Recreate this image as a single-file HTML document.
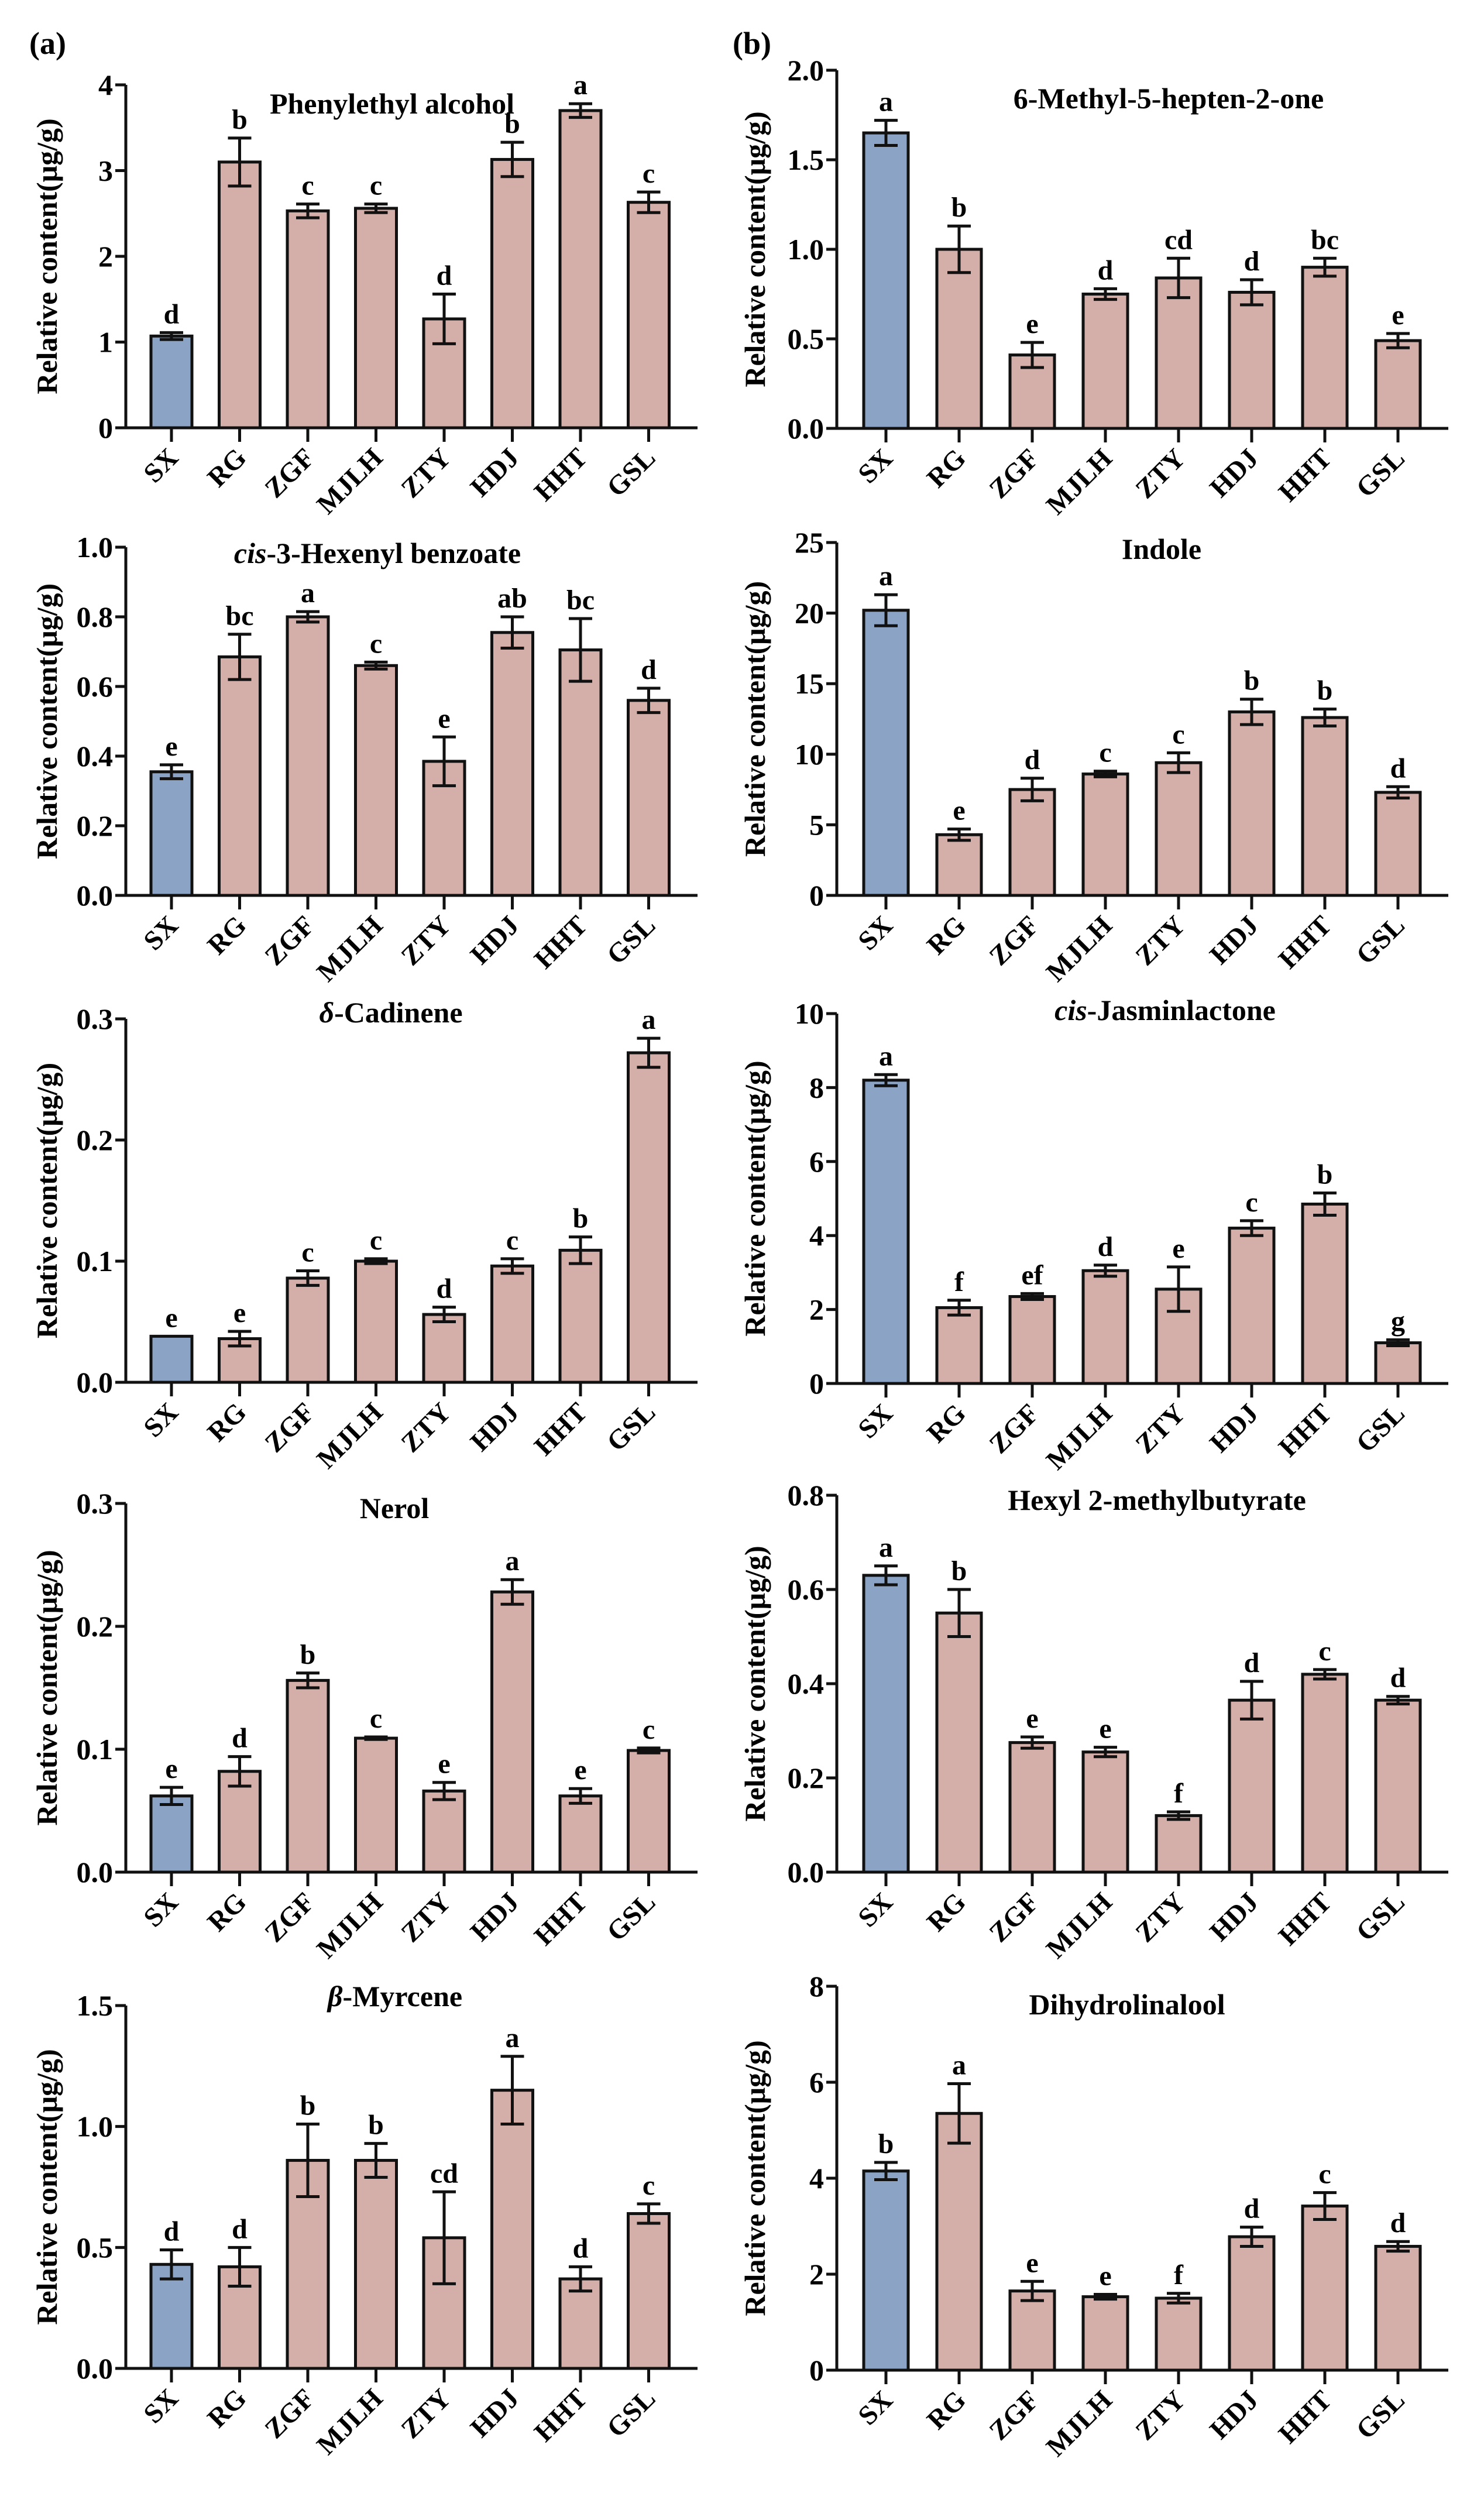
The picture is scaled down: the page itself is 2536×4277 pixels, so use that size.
<!DOCTYPE html>
<html><head><meta charset="utf-8"><style>
html,body{margin:0;padding:0;background:#fff;}
svg{display:block;font-family:"Liberation Serif",serif;font-weight:bold;}
</style></head><body>
<svg id="fig" width="2536" height="4277" viewBox="0 0 2536 4277" xmlns="http://www.w3.org/2000/svg">
<text x="50" y="92" font-size="54">(a)</text>
<text x="1252" y="92" font-size="54">(b)</text>
</svg>
<script>
const categories = ["SX","RG","ZGF","MJLH","ZTY","HDJ","HHT","GSL"];
const valsA1 = [1.07,3.1,2.53,2.56,1.27,3.13,3.7,2.63];
const errA1 = [0.04,0.28,0.08,0.05,0.29,0.2,0.08,0.12];
const letA1 = ["d","b","c","c","d","b","a","c"];
const ticksA1 = ["0","1","2","3","4"];
const valsA2 = [0.355,0.685,0.8,0.66,0.385,0.755,0.705,0.56];
const errA2 = [0.02,0.065,0.015,0.01,0.07,0.045,0.09,0.035];
const letA2 = ["e","bc","a","c","e","ab","bc","d"];
const ticksA2 = ["0.0","0.2","0.4","0.6","0.8","1.0"];
const valsA3 = [0.038,0.036,0.086,0.1,0.056,0.096,0.109,0.272];
const errA3 = [0,0.006,0.006,0.002,0.006,0.006,0.011,0.012];
const letA3 = ["e","e","c","c","d","c","b","a"];
const ticksA3 = ["0.0","0.1","0.2","0.3"];
const valsA4 = [0.062,0.082,0.156,0.109,0.066,0.228,0.062,0.099];
const errA4 = [0.007,0.012,0.006,0.001,0.007,0.01,0.006,0.002];
const letA4 = ["e","d","b","c","e","a","e","c"];
const ticksA4 = ["0.0","0.1","0.2","0.3"];
const valsA5 = [0.43,0.42,0.86,0.86,0.54,1.15,0.37,0.64];
const errA5 = [0.06,0.08,0.15,0.07,0.19,0.14,0.05,0.04];
const letA5 = ["d","d","b","b","cd","a","d","c"];
const ticksA5 = ["0.0","0.5","1.0","1.5"];
const valsB1 = [1.65,1.0,0.41,0.75,0.84,0.76,0.9,0.49];
const errB1 = [0.07,0.13,0.07,0.03,0.11,0.07,0.05,0.04];
const letB1 = ["a","b","e","d","cd","d","bc","e"];
const ticksB1 = ["0.0","0.5","1.0","1.5","2.0"];
const valsB2 = [20.2,4.3,7.5,8.6,9.4,13.0,12.6,7.3];
const errB2 = [1.1,0.4,0.8,0.2,0.7,0.9,0.6,0.4];
const letB2 = ["a","e","d","c","c","b","b","d"];
const ticksB2 = ["0","5","10","15","20","25"];
const valsB3 = [8.2,2.05,2.35,3.05,2.55,4.2,4.85,1.1];
const errB3 = [0.15,0.2,0.08,0.15,0.6,0.2,0.3,0.08];
const letB3 = ["a","f","ef","d","e","c","b","g"];
const ticksB3 = ["0","2","4","6","8","10"];
const valsB4 = [0.63,0.55,0.275,0.255,0.12,0.365,0.42,0.365];
const errB4 = [0.02,0.05,0.012,0.01,0.008,0.04,0.01,0.008];
const letB4 = ["a","b","e","e","f","d","c","d"];
const ticksB4 = ["0.0","0.2","0.4","0.6","0.8"];
const valsB5 = [4.15,5.35,1.65,1.53,1.5,2.78,3.42,2.58];
const errB5 = [0.18,0.62,0.2,0.05,0.1,0.2,0.28,0.1];
const letB5 = ["b","a","e","e","f","d","c","d"];
const ticksB5 = ["0","2","4","6","8"];

const NS="http://www.w3.org/2000/svg";
const svg=document.getElementById('fig');
function mk(tag,attrs,parent){const e=document.createElementNS(NS,tag);for(const k in attrs)e.setAttribute(k,attrs[k]);(parent||svg).appendChild(e);return e;}

const panels=[
 {id:"a1",col:0,top:145,zero:731,vals:valsA1,err:errA1,let:letA1,ticks:ticksA1,title:[["","Phenylethyl alcohol"]],tx:670,ty:194},
 {id:"a2",col:0,top:935,zero:1530,vals:valsA2,err:errA2,let:letA2,ticks:ticksA2,title:[["i","cis"],["","-3-Hexenyl benzoate"]],tx:645,ty:962},
 {id:"a3",col:0,top:1741,zero:2362,vals:valsA3,err:errA3,let:letA3,ticks:ticksA3,title:[["i","δ"],["","-Cadinene"]],tx:668,ty:1747},
 {id:"a4",col:0,top:2569,zero:3199,vals:valsA4,err:errA4,let:letA4,ticks:ticksA4,title:[["","Nerol"]],tx:674,ty:2594},
 {id:"a5",col:0,top:3427,zero:4047,vals:valsA5,err:errA5,let:letA5,ticks:ticksA5,title:[["i","β"],["","-Myrcene"]],tx:675,ty:3428},
 {id:"b1",col:1,top:120,zero:732,vals:valsB1,err:errB1,let:letB1,ticks:ticksB1,title:[["","6-Methyl-5-hepten-2-one"]],tx:1997,ty:185},
 {id:"b2",col:1,top:927,zero:1530,vals:valsB2,err:errB2,let:letB2,ticks:ticksB2,title:[["","Indole"]],tx:1985,ty:955},
 {id:"b3",col:1,top:1732,zero:2364,vals:valsB3,err:errB3,let:letB3,ticks:ticksB3,title:[["i","cis"],["","-Jasminlactone"]],tx:1991,ty:1743},
 {id:"b4",col:1,top:2555,zero:3199,vals:valsB4,err:errB4,let:letB4,ticks:ticksB4,title:[["","Hexyl 2-methylbutyrate"]],tx:1977,ty:2580},
 {id:"b5",col:1,top:3394,zero:4050,vals:valsB5,err:errB5,let:letB5,ticks:ticksB5,title:[["","Dihydrolinalool"]],tx:1926,ty:3442}
];
const cols=[{ax:215,end:1192,c0:293,step:116.5,bw:70,labx:80},{ax:1430,end:2475,c0:1514,step:125,bw:76,labx:1290}];

panels.forEach(p=>{
 const c=cols[p.col];
 const g=mk('g',{});
 
 
 const ymax=parseFloat(p.ticks[p.ticks.length-1]);
 const y=v=>p.zero-(v/ymax)*(p.zero-p.top);
 const x=i=>c.c0+i*c.step;
 p.vals.forEach((v,i)=>{
  const r=mk('rect',{x:x(i)-c.bw/2,y:y(v),width:c.bw,height:p.zero-y(v),fill:i===0?'#8ba3c4':'#d4aea8',stroke:'#111','stroke-width':5},g);
  
  
  const e=p.err[i];
  if(e>0){
   const eb=mk('path',{d:`M${x(i)},${y(v+e)}V${y(v-e)}M${x(i)-20},${y(v+e)}H${x(i)+20}M${x(i)-20},${y(v-e)}H${x(i)+20}`,stroke:'#111','stroke-width':5,fill:'none'},g);
   
   
  }
  const t=mk('text',{x:x(i),y:y(v+e)-16,'font-size':48,'text-anchor':'middle'},g);
  t.textContent=p.let[i];
  
  
  const xt=mk('line',{x1:x(i),x2:x(i),y1:p.zero,y2:p.zero+24,stroke:'#111','stroke-width':5},g);
  
  
  const lx=x(i)+14, ly=p.zero+54;
  const xl=mk('text',{x:lx,y:ly,'font-size':47,'text-anchor':'end',transform:`rotate(-45 ${lx} ${ly})`},g);
  xl.textContent=categories[i];
  
  
 });
 const ya=mk('line',{x1:c.ax,x2:c.ax,y1:p.top,y2:p.zero+2.5,stroke:'#111','stroke-width':5},g);
 
 
 const xa=mk('line',{x1:c.ax-2.5,x2:c.end,y1:p.zero,y2:p.zero,stroke:'#111','stroke-width':5},g);
 
 
 p.ticks.forEach(tk=>{
  const v=parseFloat(tk);
  const tl=mk('line',{x1:c.ax-18,x2:c.ax,y1:y(v),y2:y(v),stroke:'#111','stroke-width':5},g);
  
  
  const tt=mk('text',{x:c.ax-22,y:y(v)+17,'font-size':50,'text-anchor':'end'},g);
  tt.textContent=tk;
  
  
 });
 const cy=(p.top+p.zero)/2;
 const yl=mk('text',{x:c.labx,y:cy,'font-size':50,'text-anchor':'middle',transform:`rotate(-90 ${c.labx} ${cy})`,dy:17},g);
 yl.textContent='Relative content(μg/g)';
 
 
 const ti=mk('text',{x:p.tx,y:p.ty,'font-size':50,'text-anchor':'middle'},g);
 
 
 p.title.forEach(([st,s])=>{const sp=mk('tspan',{},ti);if(st==='i')sp.setAttribute('font-style','italic');sp.textContent=s;});
});
</script>
</body></html>
